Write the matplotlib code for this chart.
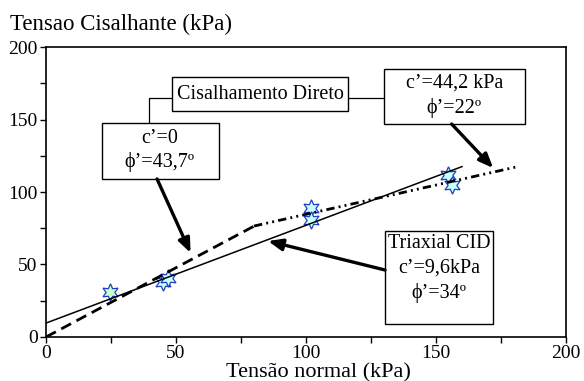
import numpy as np
import matplotlib
matplotlib.use("Agg")
import matplotlib.pyplot as plt
from matplotlib.patches import Rectangle

plt.rcParams['font.family'] = ['Liberation Serif', 'DejaVu Serif']

# ensaios: tensao normal x tensao cisalhante (kPa)
sigma_pts = [24.6, 45, 47, 102, 102, 154.6, 156]
tau_pts = [31, 38, 40.5, 88.7, 81, 111.5, 105]
fill_pts = ['#ccffcc', '#ccffff', '#ccffff', '#ccffff', '#ccffff', '#ccffff', '#ccffff']

# envoltorias
c_tri, phi_tri = 9.6, 34.0        # triaxial CID
c_d1, phi_d1 = 0.0, 43.7          # cisalhamento direto, trecho 1
c_d2, phi_d2 = 44.2, 22.0         # cisalhamento direto, trecho 2
x_tri = [0, 160]
x_d1 = [0, 80]
x_d2 = [80, 182]

xticks = [0, 50, 100, 150, 200]
yticks = [0, 50, 100, 150, 200]

fig = plt.figure(figsize=(5.84, 3.81), dpi=100)
ax = fig.add_axes([0.0788, 0.1155, 0.8904, 0.7611])

def env(c, phi, xs):
    xs = np.array(xs, dtype=float)
    return c + np.tan(np.radians(phi)) * xs

for s, t, f in zip(sigma_pts, tau_pts, fill_pts):
    ax.plot(s, t, marker=(6, 1, 0), ms=12.5, mfc=f, mec='#1f3fbf', mew=0.9,
            ls='none', zorder=2)

ax.plot(x_tri, env(c_tri, phi_tri, x_tri), color='k', lw=1.1, zorder=3)
ax.plot(x_d1, env(c_d1, phi_d1, x_d1), color='k', lw=2.0, dashes=(4, 2.2), zorder=3)
ax.plot(x_d2, env(c_d2, phi_d2, x_d2), color='k', lw=2.0,
        dashes=(3.0, 1.5, 0.7, 1.5, 0.7, 1.5), zorder=3)

fs = 14.5

def caixa(x0, x1, y0, y1):
    ax.add_patch(Rectangle((x0, y0), x1 - x0, y1 - y0, fc='white', ec='k', lw=1.0, zorder=5))

# Cisalhamento Direto
caixa(48.5, 116.2, 155.9, 179.3)
ax.text(82.3, 167.4, 'Cisalhamento Direto', ha='center', va='center', fontsize=fs, zorder=6)
# c'=0
caixa(21.5, 66.5, 109, 147.6)
ax.text(43.8, 137.2, "c’=0", ha='center', va='center', fontsize=fs, zorder=6)
ax.text(43.8, 120.7, "ϕ’=43,7º", ha='center', va='center', fontsize=fs, zorder=6)
# c'=44,2
caixa(130, 184.2, 146.9, 184.8)
ax.text(157, 175.2, "c’=44,2 kPa", ha='center', va='center', fontsize=fs, zorder=6)
ax.text(157, 157.9, "ϕ’=22º", ha='center', va='center', fontsize=fs, zorder=6)
# Triaxial
caixa(130.4, 171.9, 9, 73.3)
ax.text(151.2, 64.8, "Triaxial CID", ha='center', va='center', fontsize=fs, zorder=6)
ax.text(151.2, 47.6, "c’=9,6kPa", ha='center', va='center', fontsize=fs, zorder=6)
ax.text(151.2, 30.3, "ϕ’=34º", ha='center', va='center', fontsize=fs, zorder=6)

# ligacoes da caixa "Cisalhamento Direto"
ax.plot([39.6, 39.6, 48.5], [147.6, 164.6, 164.6], color='k', lw=0.9, zorder=4)
ax.plot([116.2, 130], [164.6, 164.6], color='k', lw=0.9, zorder=4)

arr = dict(arrowstyle='-|>,head_length=0.85,head_width=0.35', color='k', lw=2.4,
           shrinkA=0, shrinkB=0)
ax.annotate('', xy=(55.6, 58), xytext=(42.7, 109), arrowprops=arr, zorder=6)
ax.annotate('', xy=(172, 116.5), xytext=(156, 146.9), arrowprops=arr, zorder=6)
ax.annotate('', xy=(85.4, 66.2), xytext=(130.4, 46.2), arrowprops=arr, zorder=6)

ax.set_xlim(0, 200)
ax.set_ylim(0, 200)
ax.set_xticks(xticks)
ax.set_yticks(yticks)
ax.set_xticks([25, 75, 125, 175], minor=True)
ax.set_yticks([25, 75, 125, 175], minor=True)
ax.tick_params(which='both', direction='out', length=4, width=1, labelsize=14, pad=2)
ax.tick_params(which='both', top=False, right=False)
for sp in ax.spines.values():
    sp.set_linewidth(1.2)

fig.text(318 / 584, 1 - 377.5 / 381, 'Tensão normal (kPa)', ha='center', va='baseline', fontsize=16)
fig.text(10 / 584, 1 - 30 / 381, 'Tensao Cisalhante (kPa)', ha='left', va='baseline', fontsize=16.5)

fig.savefig('out.png', dpi=100)
